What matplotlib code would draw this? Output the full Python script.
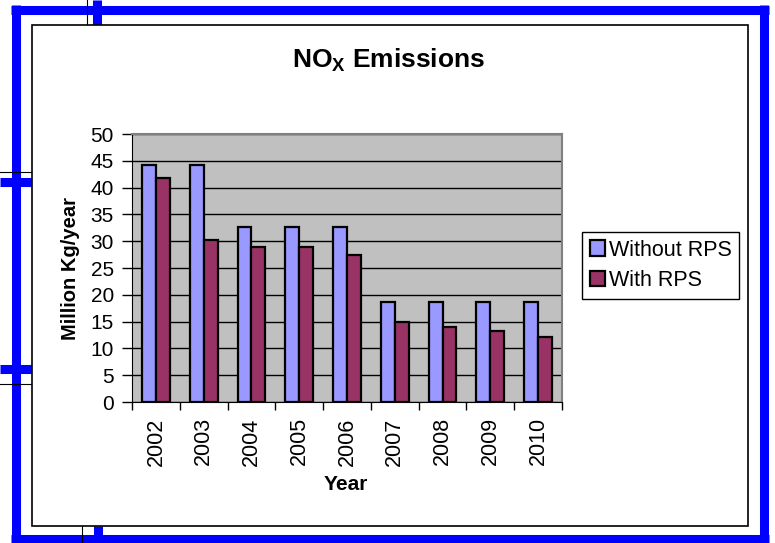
import matplotlib.pyplot as plt
import numpy as np
from matplotlib.patches import Rectangle
from matplotlib.lines import Line2D

plt.rcParams['font.family'] = ['Liberation Sans', 'DejaVu Sans']
plt.rcParams['mathtext.fontset'] = 'custom'
plt.rcParams['mathtext.bf'] = 'Liberation Sans:bold'
plt.rcParams['mathtext.rm'] = 'Liberation Sans'

# Dati
years = ['2002', '2003', '2004', '2005', '2006', '2007', '2008', '2009', '2010']
without_rps = [44.2, 44.2, 32.6, 32.6, 32.6, 18.7, 18.7, 18.7, 18.7]
with_rps = [41.8, 30.2, 28.9, 28.9, 27.5, 15.0, 14.0, 13.2, 12.2]

W, H = 775, 543
fig = plt.figure(figsize=(W / 100, H / 100), dpi=100)

def fx(x):
    return x / W

def fy(y):
    return 1 - y / H

# cornice blu e linee della pagina
blue = '#0000FF'
def blue_line(x0, y0, x1, y1, lw=6.5):
    fig.add_artist(Line2D([fx(x0), fx(x1)], [fy(y0), fy(y1)], color=blue, lw=lw,
                          transform=fig.transFigure, solid_capstyle='butt', zorder=-2))

def black_line(x0, y0, x1, y1, lw=0.8):
    fig.add_artist(Line2D([fx(x0), fx(x1)], [fy(y0), fy(y1)], color='black', lw=lw,
                          transform=fig.transFigure, zorder=-2))

blue_line(10.5, 9.5, 769, 9.5)
blue_line(15.5, 5, 15.5, 543)
blue_line(764, 5, 764, 543)
blue_line(10.5, 539, 769, 539)
blue_line(97, 0, 97, 25)
blue_line(98, 526, 98, 543)
blue_line(0, 181.5, 32, 181.5)
blue_line(0, 369, 32, 369)
black_line(87, 0, 87, 25)
black_line(82, 526, 82, 543)
black_line(0, 172, 32, 172)
black_line(0, 384, 32, 384)

# riquadro del grafico
fig.add_artist(Rectangle((fx(32), fy(526)), fx(748) - fx(32), fy(25) - fy(526),
                         facecolor='white', edgecolor='black', lw=1.2,
                         transform=fig.transFigure, zorder=-1))

ax = fig.add_axes([fx(132), fy(402), fx(562) - fx(132), fy(134) - fy(402)])
ax.set_facecolor('#C0C0C0')

x = np.arange(len(years))
w = 0.29
ax.bar(x - w / 2, without_rps, w, color='#9999FF', edgecolor='black', lw=1.6,
       label='Without RPS', zorder=3)
ax.bar(x + w / 2, with_rps, w, color='#993366', edgecolor='black', lw=1.6,
       label='With RPS', zorder=3)

ax.set_xlim(-0.5, len(years) - 0.5)
ax.set_ylim(0, 50)
ax.set_yticks(np.arange(0, 51, 5))
ax.yaxis.grid(True, color='black', lw=1)
ax.set_axisbelow(True)

ax.set_xticks(x)
ax.set_xticklabels(years, rotation=90, fontsize=15.5)
ax.set_xticks(np.arange(-0.5, len(years), 1), minor=True)
ax.tick_params(axis='x', which='major', length=0, pad=11)
ax.tick_params(axis='x', which='minor', length=6, direction='out', width=1)
ax.tick_params(axis='y', labelsize=15, length=7, width=1, pad=6)

ax.spines['top'].set_color('#808080')
ax.spines['right'].set_color('#808080')
ax.spines['top'].set_linewidth(1.5)
ax.spines['right'].set_linewidth(1.5)

fig.text(fx(389), fy(60), r'NO$_\mathbf{X}$ Emissions', fontsize=19, fontweight='bold',
         ha='center', va='center')
fig.text(fx(346), fy(485), 'Year', fontsize=15, fontweight='bold', ha='center', va='center')
fig.text(fx(70), fy(268), 'Million Kg/year', fontsize=14.5, fontweight='bold',
         ha='center', va='center', rotation=90)

fig.legend(loc='upper left', bbox_to_anchor=(fx(582), fy(232)), fontsize=15.5,
           frameon=True, fancybox=False, edgecolor='black', framealpha=1,
           handlelength=0.7, handleheight=0.7, handletextpad=0.2,
           borderpad=0.35, labelspacing=0.45, borderaxespad=0)

plt.savefig('out.png', dpi=100)
